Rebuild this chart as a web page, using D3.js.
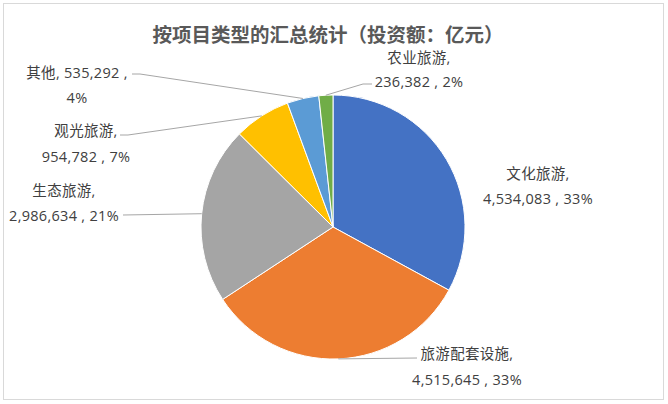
<!DOCTYPE html>
<html lang="zh">
<head>
  <meta charset="UTF-8">
  <title>按项目类型的汇总统计</title>
  <script src="https://d3js.org/d3.v7.min.js"></script>
  <style>
    body { margin: 0; background: #fff; }
    svg text { font-family: "Open Sans", "Noto Sans CJK SC", sans-serif; }
    .title { fill: #595959; font-size: 19.5px; font-weight: bold; text-anchor: middle;
             font-family: "Noto Sans CJK SC", sans-serif; }
    .label { fill: #404040; font-size: 14.5px; letter-spacing: 0.3px; text-anchor: middle; dominant-baseline: central; }
    .leader { fill: none; stroke: #a6a6a6; stroke-width: 1; }
    .arc path { stroke: #fff; stroke-width: 1; }
  </style>
</head>
<body>
  <svg width="668" height="404"></svg>
  <script>
    const categories = ['文化旅游', '旅游配套设施', '生态旅游', '观光旅游', '其他', '农业旅游'];
    const values = [4534083, 4515645, 2986634, 954782, 535292, 236382];
    const percents = ['33%', '33%', '21%', '7%', '4%', '2%'];
    const colors = ['#4472c4', '#ed7d31', '#a5a5a5', '#ffc000', '#5b9bd5', '#70ad47'];

    const data = categories.map((c, i) => ({ name: c, value: values[i], pct: percents[i] }));

    const svg = d3.select('svg');
    const w = +svg.attr('width');
    const h = +svg.attr('height');

    // chart border
    svg.append('rect')
      .attr('x', 3.5).attr('y', 3.5)
      .attr('width', w - 8).attr('height', h - 8)
      .attr('fill', '#fff')
      .attr('stroke', '#d9d9d9');

    svg.append('text')
      .attr('class', 'title')
      .attr('x', 328)
      .attr('y', 42)
      .text('按项目类型的汇总统计（投资额：亿元）');

    const cx = 333, cy = 227, r = 132;
    const group = svg.append('g').attr('transform', `translate(${cx},${cy})`);

    const pie = d3.pie().sort(null).value(d => d.value);
    const path = d3.arc().innerRadius(0).outerRadius(r);
    const edge = d3.arc().innerRadius(r).outerRadius(r);

    const arcs = pie(data);

    group.selectAll('.arc')
      .data(arcs)
      .enter()
      .append('g')
      .attr('class', 'arc')
      .append('path')
      .attr('d', path)
      .attr('fill', (d, i) => colors[i]);

    // label placement (center of each text line) and leader elbow points
    const labelPos = [
      { x: 538, y: 173, gap: 25, leader: null },
      { x: 467, y: 353, gap: 26, leader: [[417, 358]] },
      { x: 64, y: 190, gap: 25, leader: [[123, 215]] },
      { x: 86, y: 130, gap: 26, leader: [[120, 135], [128, 135]] },
      { x: 77, y: 72, gap: 25, leader: [[132, 74], [140, 74]] },
      { x: 419, y: 57, gap: 24, leader: [[372, 84], [363, 84]] }
    ];

    const fmt = d3.format(',');

    arcs.forEach((a, i) => {
      const d = a.data;
      const p = labelPos[i];
      let lines;
      if (d.name.length <= 2) {
        lines = [`${d.name}, ${fmt(d.value)} ,`, d.pct];
      } else {
        lines = [`${d.name},`, `${fmt(d.value)} , ${d.pct}`];
      }
      lines.forEach((t, k) => {
        svg.append('text')
          .attr('class', 'label')
          .attr('x', p.x)
          .attr('y', p.y + k * p.gap)
          .text(t);
      });
      if (p.leader) {
        const c = edge.centroid(a);
        const pts = p.leader.concat([[cx + c[0], cy + c[1]]]);
        svg.append('path')
          .attr('class', 'leader')
          .attr('d', d3.line()(pts));
      }
    });
  </script>
</body>
</html>
